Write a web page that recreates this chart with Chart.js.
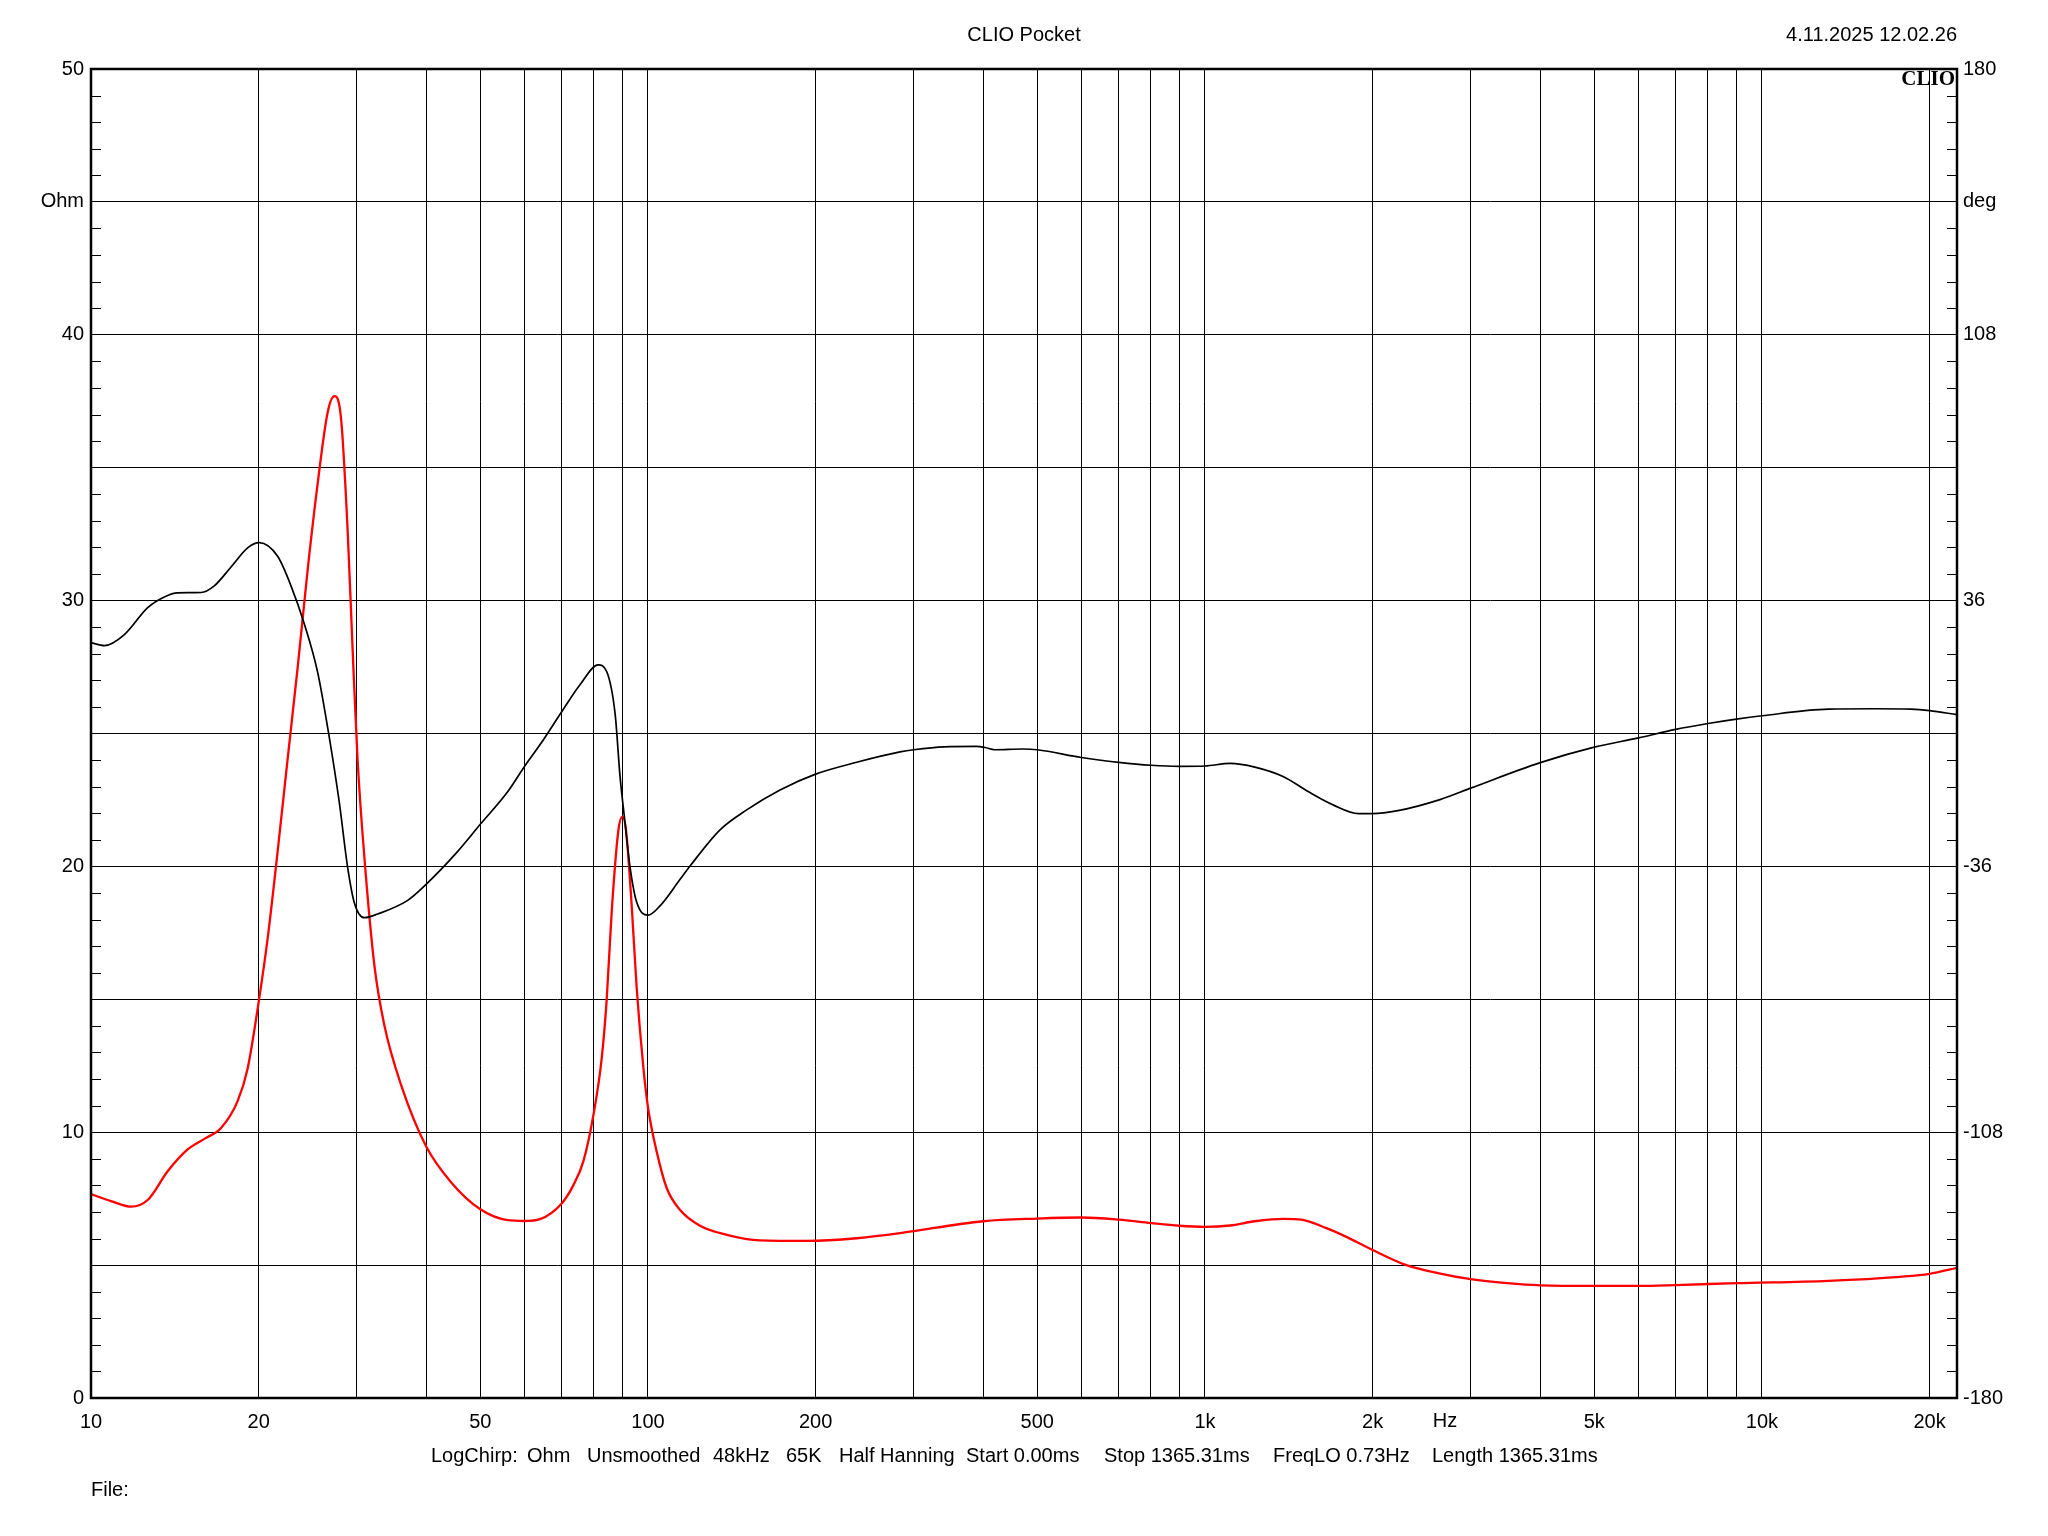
<!DOCTYPE html>
<html>
<head>
<meta charset="utf-8">
<script src="https://cdn.jsdelivr.net/npm/chart.js@4.4.1/dist/chart.umd.min.js"></script>
<style>
  html, body { margin: 0; padding: 0; background: #fff; }
  canvas { display: block; }
</style>
</head>
<body>
<canvas id="clioChart" width="2048" height="1536"></canvas>
<script>
// impedance magnitude (red, Ohm, left axis)
var impFreq = [10, 10.86, 11.8, 12.64, 13.73, 14.91, 15.98, 17.12, 18.34, 19.11, 20.05, 20.76, 21.63, 22.54, 23.5, 24.49, 25.53, 26.6, 27.35, 28.11, 28.9, 29.5, 30.1, 30.96, 32.27, 33.62, 36.02, 40, 44.3, 50, 56, 60, 64, 70, 73.4, 76.6, 80, 82.6, 84.3, 86.1, 88.5, 90, 91.3, 93.5, 95.4, 98.1, 100, 103.7, 108, 114.2, 124, 138.5, 158.9, 192.7, 237, 283.5, 300, 400, 500, 600, 700, 800, 900, 1000, 1109, 1229, 1384, 1490, 1652, 1778, 2000, 2286, 2620, 3000, 3485, 4000, 5000, 6000, 7000, 9000, 13170, 17690, 20000, 22400];
var impOhm = [7.67, 7.41, 7.2, 7.45, 8.53, 9.35, 9.75, 10.16, 11.18, 12.4, 15.05, 17.3, 20.56, 24.03, 27.49, 31.16, 34.42, 37.08, 37.69, 36.87, 32.59, 28.1, 24.03, 20.35, 16.28, 14.03, 11.79, 9.45, 8.12, 7.1, 6.69, 6.66, 6.73, 7.32, 7.99, 8.92, 10.77, 12.79, 14.97, 18.34, 21.37, 21.87, 21.37, 18.51, 15.48, 12.45, 10.94, 9.26, 7.91, 7.07, 6.48, 6.14, 5.93, 5.91, 6.01, 6.2, 6.28, 6.65, 6.75, 6.79, 6.71, 6.58, 6.48, 6.44, 6.49, 6.65, 6.74, 6.71, 6.39, 6.1, 5.57, 5.02, 4.7, 4.47, 4.32, 4.24, 4.22, 4.22, 4.25, 4.32, 4.41, 4.56, 4.67, 4.9];

// impedance phase (black, deg, right axis)
var phaseFreq = [10, 10.57, 11.48, 12.64, 13.54, 14.3, 15.76, 16.65, 17.84, 19.11, 20.05, 21.63, 22.86, 24.15, 25.53, 26.79, 27.92, 28.9, 29.71, 30.96, 32.71, 37.03, 40, 45.5, 50, 55.98, 59.98, 64.3, 70, 75.5, 81.4, 84.3, 87.3, 89.1, 90.9, 92.8, 95.4, 100, 105.1, 114.2, 119, 134.7, 150.4, 172.6, 200, 237, 283.5, 300, 340, 389, 403, 419, 471, 500, 600, 700, 800, 900, 1000, 1109, 1229, 1384, 1535, 1702, 1887, 2000, 2220, 2642, 3000, 4000, 5000, 6000, 7000, 8000, 9000, 10000, 13170, 15950, 18490, 20000, 22400];
var phaseDeg = [24.6, 23.8, 26.8, 34.1, 37.0, 38.1, 38.2, 40.0, 45.1, 50.3, 51.7, 48.0, 40.0, 29.7, 16.5, -1.2, -18.8, -36.4, -45.9, -49.9, -48.9, -45.2, -40.8, -32.0, -24.6, -15.8, -9.0, -2.6, 5.9, 13.2, 18.6, 16.8, 5.3, -11.7, -23.8, -35.9, -45.6, -49.2, -46.7, -39.5, -35.9, -26.1, -20.7, -15.3, -11.0, -7.8, -5.0, -4.4, -3.6, -3.5, -3.8, -4.4, -4.2, -4.4, -6.5, -7.8, -8.6, -8.9, -8.8, -8.1, -9.1, -11.7, -15.8, -19.4, -21.7, -21.7, -20.9, -17.9, -14.8, -7.9, -3.7, -1.2, 1.1, 2.7, 3.9, 4.8, 6.6, 6.7, 6.6, 6.2, 5.1];

// axis ticks
var freqGrid = [10, 20, 30, 40, 50, 60, 70, 80, 90, 100, 200, 300, 400, 500, 600, 700, 800, 900, 1000, 2000, 3000, 4000, 5000, 6000, 7000, 8000, 9000, 10000, 20000];
var freqLabels = {10: '10', 20: '20', 50: '50', 100: '100', 200: '200', 500: '500', 1000: '1k', 2000: '2k', 5000: '5k', 10000: '10k', 20000: '20k'};
var ohmGrid = [0, 5, 10, 15, 20, 25, 30, 35, 40, 45, 50];
var ohmLabels = {0: '0', 10: '10', 20: '20', 30: '30', 40: '40', 45: 'Ohm', 50: '50'};
var degTicks = [-180, -108, -36, 36, 108, 144, 180];
var degLabels = {'-180': '-180', '-108': '-108', '-36': '-36', '36': '36', '108': '108', '144': 'deg', '180': '180'};

var infoItems = [
    ['LogChirp:', 431], ['Ohm', 527], ['Unsmoothed', 587], ['48kHz', 713], ['65K', 786],
    ['Half Hanning', 839], ['Start 0.00ms', 966], ['Stop 1365.31ms', 1104],
    ['FreqLO 0.73Hz', 1273], ['Length 1365.31ms', 1432]
];

var FONT = '"Liberation Sans", Arial, sans-serif';

function toPoints(xs, ys) {
    var pts = [];
    for (var i = 0; i < xs.length; i++) pts.push({x: xs[i], y: ys[i]});
    return pts;
}

var clioDecor = {
    id: 'clioDecor',
    afterDatasetsDraw: function(chart) {
        var ctx = chart.ctx;
        var a = chart.chartArea;
        var y = chart.scales.y;
        ctx.save();
        // minor ticks inside the frame, every 1 Ohm
        ctx.strokeStyle = '#000';
        ctx.lineWidth = 1;
        ctx.beginPath();
        for (var v = 1; v < 50; v++) {
            if (v % 5 === 0) continue;
            var py = Math.round(y.getPixelForValue(v)) + 0.5;
            ctx.moveTo(a.left, py); ctx.lineTo(a.left + 10, py);
            ctx.moveTo(a.right - 10, py); ctx.lineTo(a.right, py);
        }
        ctx.stroke();
        // heavy frame
        ctx.lineWidth = 2.5;
        ctx.strokeRect(a.left, a.top, a.right - a.left, a.bottom - a.top);
        ctx.restore();
    },
    afterDraw: function(chart) {
        var ctx = chart.ctx;
        var a = chart.chartArea;
        ctx.save();
        ctx.fillStyle = '#000';
        ctx.textBaseline = 'middle';
        ctx.font = '20px ' + FONT;
        ctx.textAlign = 'center';
        ctx.fillText('CLIO Pocket', 1024, 35);
        ctx.textAlign = 'right';
        ctx.fillText('4.11.2025 12.02.26', a.right, 35);
        ctx.textAlign = 'center';
        ctx.fillText('Hz', 1445, 1421);
        ctx.textAlign = 'left';
        infoItems.forEach(function(it) {
            ctx.fillText(it[0], it[1], 1456);
        });
        ctx.fillText('File:', 91, 1490);
        ctx.font = 'bold 21px "Liberation Serif", "Times New Roman", serif';
        ctx.textAlign = 'right';
        ctx.fillText('CLIO', a.right - 2, 80);
        ctx.restore();
    }
};

var ctx = document.getElementById('clioChart').getContext('2d');
var chart = new Chart(ctx, {
    type: 'line',
    data: {
        datasets: [{
            label: 'Phase',
            data: toPoints(phaseFreq, phaseDeg),
            yAxisID: 'y2',
            borderColor: '#000000',
            borderWidth: 1.7,
            pointRadius: 0,
            cubicInterpolationMode: 'monotone',
            fill: false
        }, {
            label: 'Impedance',
            data: toPoints(impFreq, impOhm),
            yAxisID: 'y',
            borderColor: '#ff0000',
            borderWidth: 2.3,
            pointRadius: 0,
            cubicInterpolationMode: 'monotone',
            fill: false
        }]
    },
    options: {
        responsive: false,
        animation: false,
        events: [],
        layout: { padding: { top: 69, left: 0, right: 0, bottom: 0 } },
        plugins: {
            legend: { display: false },
            tooltip: { enabled: false },
            title: { display: false }
        },
        scales: {
            x: {
                type: 'logarithmic',
                min: 10,
                max: 22400,
                afterBuildTicks: function(scale) {
                    scale.ticks = freqGrid.map(function(v) { return {value: v}; });
                },
                afterFit: function(scale) { scale.height = 138; },
                grid: { color: '#000', lineWidth: 1, drawTicks: false },
                border: { display: false },
                ticks: {
                    autoSkip: false,
                    maxRotation: 0,
                    padding: 12,
                    color: '#000',
                    font: { family: FONT, size: 20 },
                    callback: function(value) { return freqLabels[value] || ''; }
                }
            },
            y: {
                type: 'linear',
                position: 'left',
                min: 0,
                max: 50,
                afterBuildTicks: function(scale) {
                    scale.ticks = ohmGrid.map(function(v) { return {value: v}; });
                },
                afterFit: function(scale) { scale.width = 91; },
                grid: { color: '#000', lineWidth: 1, drawTicks: false },
                border: { display: false },
                ticks: {
                    padding: 7,
                    color: '#000',
                    font: { family: FONT, size: 20 },
                    callback: function(value) { return ohmLabels[value] || ''; }
                }
            },
            y2: {
                type: 'linear',
                position: 'right',
                min: -180,
                max: 180,
                afterBuildTicks: function(scale) {
                    scale.ticks = degTicks.map(function(v) { return {value: v}; });
                },
                afterFit: function(scale) { scale.width = 91; },
                grid: { display: false, drawTicks: false },
                border: { display: false },
                ticks: {
                    padding: 6,
                    color: '#000',
                    font: { family: FONT, size: 20 },
                    callback: function(value) { return degLabels[String(value)] || ''; }
                }
            }
        }
    },
    plugins: [clioDecor]
});
</script>
</body>
</html>
